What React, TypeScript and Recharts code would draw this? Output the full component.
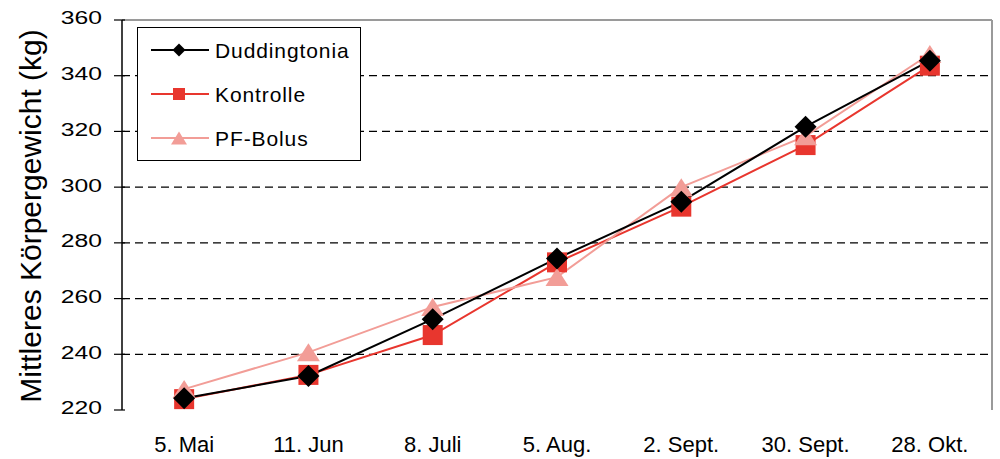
import React from 'react';
import { LineChart, Line, XAxis, YAxis, ReferenceLine, Legend } from 'recharts';

const categories = ['5. Mai', '11. Jun', '8. Juli', '5. Aug.', '2. Sept.', '30. Sept.', '28. Okt.'];
const duddingtonia = [224.2, 232.2, 252.6, 274.4, 294.8, 321.7, 345.4];
const kontrolle = [223.9, 232.6, 246.9, 273.0, 293.0, 315.1, 343.6];
const pfBolus = [227.5, 240.7, 257.0, 267.7, 300.0, 318.3, 347.8];
const yTicks = [220, 240, 260, 280, 300, 320, 340, 360];
const gridValues = [240, 260, 280, 300, 320, 340];
const labelPositions = categories.map((_, i) => i + 0.5);
const boundaryTicks = [0, 1, 2, 3, 4, 5, 6, 7];

const data = categories.map((c, i) => ({
  x: i + 0.5,
  name: c,
  duddingtonia: duddingtonia[i],
  kontrolle: kontrolle[i],
  pfBolus: pfBolus[i],
}));

const BLACK = '#000000';
const RED = '#E8362E';
const PINK = '#F29D97';
const FONT = '"Liberation Sans", Arial, Helvetica, sans-serif';

const diamondPath = (cx: number, cy: number, r: number) =>
  `M${cx},${cy - r}L${cx + r},${cy}L${cx},${cy + r}L${cx - r},${cy}Z`;
const trianglePath = (cx: number, cy: number, w: number, h: number) =>
  `M${cx},${cy - h / 2}L${cx + w / 2},${cy + h / 2}L${cx - w / 2},${cy + h / 2}Z`;

const DiamondDot = (props: any) => {
  const { cx, cy, index } = props;
  if (cx == null || cy == null) return <g key={`d${index}`} />;
  return <path key={`d${index}`} d={diamondPath(cx, cy, 11)} fill={BLACK} />;
};
const SquareDot = (props: any) => {
  const { cx, cy, index } = props;
  if (cx == null || cy == null) return <g key={`s${index}`} />;
  return <rect key={`s${index}`} x={cx - 10} y={cy - 10} width={20} height={20} fill={RED} />;
};
const TriangleDot = (props: any) => {
  const { cx, cy, index } = props;
  if (cx == null || cy == null) return <g key={`t${index}`} />;
  return <path key={`t${index}`} d={trianglePath(cx, cy, 23, 18)} fill={PINK} />;
};

const YTick = (props: any) => {
  const { x, y, payload } = props;
  const axisX = x + 8 + 12;
  return (
    <g>
      <line x1={axisX - 8} x2={axisX + 3} y1={y} y2={y} stroke={BLACK} strokeWidth={1.2} />
      <text
        transform={`translate(${x},${y - 2}) scale(1.3,1)`}
        textAnchor="end"
        dominantBaseline="central"
        fontSize={19}
        fontFamily={FONT}
        fill={BLACK}
      >
        {payload.value}
      </text>
    </g>
  );
};

const XLabelTick = (props: any) => {
  const { x, payload } = props;
  return (
    <text x={x} y={452} textAnchor="middle" fontSize={22} fontFamily={FONT} fill={BLACK}>
      {categories[Math.round(payload.value - 0.5)]}
    </text>
  );
};

const legendItems = [
  { name: 'Duddingtonia', color: BLACK, shape: 'diamond' },
  { name: 'Kontrolle', color: RED, shape: 'square' },
  { name: 'PF-Bolus', color: PINK, shape: 'triangle' },
];

const LegendBox = () => (
  <div
    style={{
      width: 224,
      height: 134,
      boxSizing: 'border-box',
      border: '1.5px solid #000',
      background: '#fff',
      fontFamily: FONT,
    }}
  >
    {legendItems.map((it) => (
      <div key={it.name} style={{ height: 44, display: 'flex', alignItems: 'center' }}>
        <svg width={58} height={20} style={{ marginLeft: 13, display: 'block' }}>
          <line x1={0} x2={58} y1={10} y2={10} stroke={it.color} strokeWidth={2} />
          {it.shape === 'diamond' && <path d={diamondPath(28, 10, 6.5)} fill={it.color} />}
          {it.shape === 'square' && <rect x={22} y={4} width={12} height={12} fill={it.color} />}
          {it.shape === 'triangle' && <path d={trianglePath(28, 10, 16, 13)} fill={it.color} />}
        </svg>
        <span style={{ marginLeft: 6, fontSize: 21, letterSpacing: 0.9, color: '#000', lineHeight: 1 }}>
          {it.name}
        </span>
      </div>
    ))}
  </div>
);

export default function App() {
  return (
    <div
      style={{
        position: 'absolute',
        left: 0,
        top: 0,
        width: 1000,
        height: 459,
        background: '#fff',
        overflow: 'hidden',
      }}
    >
      <LineChart
        width={1000}
        height={459}
        data={data}
        margin={{ top: 20, right: 8, bottom: 0, left: 0 }}
      >
        <XAxis
          xAxisId="b"
          dataKey="x"
          type="number"
          domain={[0, 7]}
          ticks={boundaryTicks}
          tick={false}
          tickSize={8}
          height={0}
          axisLine={{ stroke: BLACK, strokeWidth: 1.5 }}
          tickLine={{ stroke: BLACK, strokeWidth: 1.2 }}
          allowDataOverflow
        />
        <XAxis
          xAxisId="l"
          dataKey="x"
          type="number"
          domain={[0, 7]}
          ticks={labelPositions}
          interval={0}
          tickLine={false}
          axisLine={false}
          height={49}
          tick={<XLabelTick />}
        />
        <YAxis
          domain={[220, 360]}
          ticks={yTicks}
          interval={0}
          width={122}
          tickSize={8}
          tickMargin={12}
          tickLine={false}
          axisLine={{ stroke: BLACK, strokeWidth: 1.5 }}
          tick={<YTick />}
          label={{
            content: () => (
              <text
                x={30}
                y={216}
                transform="rotate(-90 30 216)"
                textAnchor="middle"
                dominantBaseline="central"
                fontSize={30}
                fontFamily={FONT}
                fill={BLACK}
              >
                Mittleres Körpergewicht (kg)
              </text>
            ),
          }}
        />
        {gridValues.map((v) => (
          <ReferenceLine
            key={v}
            xAxisId="b"
            y={v}
            stroke={BLACK}
            strokeWidth={1.2}
            strokeDasharray="8 5"
          />
        ))}
        <ReferenceLine xAxisId="b" y={360} stroke="#9a9a9a" strokeWidth={2} />
        <ReferenceLine xAxisId="b" x={7} stroke="#9a9a9a" strokeWidth={2} />
        <Line
          xAxisId="b"
          dataKey="kontrolle"
          name="Kontrolle"
          stroke={RED}
          strokeWidth={2}
          dot={SquareDot}
          activeDot={false}
          isAnimationActive={false}
        />
        <Line
          xAxisId="b"
          dataKey="pfBolus"
          name="PF-Bolus"
          stroke={PINK}
          strokeWidth={2}
          dot={TriangleDot}
          activeDot={false}
          isAnimationActive={false}
        />
        <Line
          xAxisId="b"
          dataKey="duddingtonia"
          name="Duddingtonia"
          stroke={BLACK}
          strokeWidth={2}
          dot={DiamondDot}
          activeDot={false}
          isAnimationActive={false}
        />
        <Legend
          layout="vertical"
          align="center"
          verticalAlign="middle"
          wrapperStyle={{ position: 'absolute', left: 137, top: 27, width: 224, height: 134 }}
          content={() => <LegendBox />}
        />
      </LineChart>
    </div>
  );
}
